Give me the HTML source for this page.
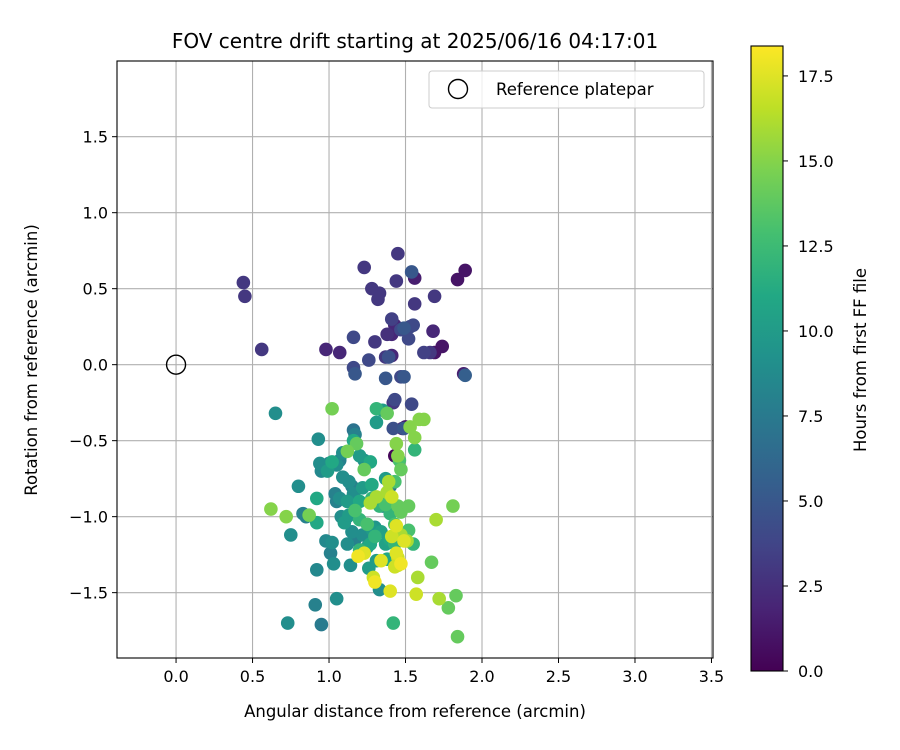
<!DOCTYPE html>
<html><head><meta charset="utf-8"><style>
html,body{margin:0;padding:0;background:#fff;}
svg{display:block;font-family:"DejaVu Sans","Liberation Sans",sans-serif;}
</style></head><body>
<svg id="chart" width="900" height="750" viewBox="0 0 900 750"></svg>
<script>
const xTicks=[0.0,0.5,1.0,1.5,2.0,2.5,3.0,3.5];
const yTicks=[-1.5,-1.0,-0.5,0.0,0.5,1.0,1.5];
const cTicks=[0.0,2.5,5.0,7.5,10.0,12.5,15.0,17.5];
const refPoint=[0,0];
const xs=[0.44,0.45,0.56,0.98,1.07,1.23,1.28,1.33,1.32,1.45,1.44,1.54,1.56,1.56,1.69,1.84,1.89,1.41,1.43,1.47,1.49,1.53,1.55,1.52,1.38,1.41,1.30,1.37,1.41,1.39,1.26,1.16,1.16,1.17,1.37,1.42,1.43,1.47,1.49,1.54,1.62,1.66,1.68,1.69,1.74,1.88,1.89,1.48,1.50,1.49,1.42,
0.65,1.02,1.16,1.17,1.16,1.18,1.12,0.93,1.31,1.35,1.38,1.31,1.44,1.53,1.56,1.56,1.62,1.43,1.45,1.47,1.46,1.09,1.07,1.05,1.00,0.94,0.95,0.99,1.02,1.09,1.13,1.15,1.20,1.23,1.27,1.23,1.28,1.22,1.16,1.04,1.07,0.92,0.80,0.83,0.85,0.92,0.62,0.72,0.75,0.87,1.08,1.12,1.17,1.10,1.15,1.20,0.98,1.02,1.01,1.03,1.12,1.17,1.22,1.25,1.28,1.30,1.25,1.27,1.30,1.34,1.37,1.40,1.43,1.40,1.43,1.33,1.35,1.31,1.37,1.41,1.38,1.45,1.47,1.52,1.39,1.43,1.40,1.37,1.34,1.28,1.27,1.29,1.20,1.17,1.12,1.05,1.13,1.23,1.19,1.26,1.29,1.30,1.33,1.31,1.34,1.38,1.40,1.42,1.41,1.44,1.47,1.51,1.44,1.45,1.47,1.45,1.43,1.57,1.58,1.67,1.70,1.81,1.72,1.78,1.83,1.84,1.59,1.14,0.92,0.91,0.95,0.73,1.05,1.20,1.52,1.49,1.55];
const ys=[0.54,0.45,0.10,0.10,0.08,0.64,0.50,0.47,0.43,0.73,0.55,0.61,0.57,0.40,0.45,0.56,0.62,0.30,0.26,0.23,0.24,0.25,0.26,0.17,0.20,0.20,0.15,0.05,0.06,0.05,0.03,0.18,-0.02,-0.06,-0.09,-0.25,-0.23,-0.08,-0.08,-0.26,0.08,0.08,0.22,0.08,0.12,-0.06,-0.07,-0.42,-0.41,-0.42,-0.42,
-0.32,-0.29,-0.43,-0.46,-0.50,-0.52,-0.57,-0.49,-0.29,-0.30,-0.32,-0.38,-0.52,-0.41,-0.48,-0.56,-0.36,-0.60,-0.60,-0.69,-0.63,-0.58,-0.63,-0.66,-0.65,-0.65,-0.70,-0.70,-0.64,-0.74,-0.77,-0.80,-0.60,-0.63,-0.64,-0.69,-0.79,-0.81,-0.85,-0.85,-0.88,-0.88,-0.80,-0.98,-1.00,-1.04,-0.95,-1.00,-1.12,-0.99,-1.00,-1.00,-0.96,-1.04,-1.10,-1.02,-1.16,-1.17,-1.24,-1.31,-1.18,-1.15,-1.12,-1.05,-1.08,-1.07,-1.20,-1.18,-1.13,-1.10,-1.18,-1.15,-1.18,-0.98,-1.05,-0.93,-0.93,-0.87,-0.92,-0.87,-0.84,-0.93,-0.97,-0.93,-0.77,-0.77,-0.80,-0.75,-0.90,-0.88,-0.91,-0.88,-0.90,-0.88,-0.90,-0.90,-0.99,-1.24,-1.26,-1.34,-1.40,-1.43,-1.48,-1.29,-1.29,-1.28,-1.49,-1.70,-1.13,-1.06,-1.12,-1.16,-1.24,-1.27,-1.31,-1.32,-1.33,-1.51,-1.40,-1.30,-1.02,-0.93,-1.54,-1.60,-1.52,-1.79,-0.36,-1.32,-1.35,-1.58,-1.71,-1.70,-1.54,-1.22,-1.09,-1.16,-1.18];
const hours=[3,3,3,2,2,3,3,3,3,3,3,5,1.5,3,3,1,1,3.5,2,4,5,4,4,4,2.5,2,3,3,2,4.5,4,4,4,5,5,3,4,4,5,4,3.5,3,2,1,1,1.5,5.5,2,1,5,4.5,
9,14.5,7,8,11,14,14.5,9,12,10,14,10,15,15,15,12,15,0.3,15,14,13,9,8,9,8,9,8.5,10,11,9,9,8,10,9,11,14,11,10,9,8,9,11,9,8,8,11,15,15,9,14.5,9,8.5,13,10,9,12,8.5,9,8,9,9,8,9,13,10,9.5,10,11,12,10.5,10.5,11,12,12,13,12,8,16,13,17,16,14,14,14,16,13,7,10,9,12,16,8,11,9,10,8,10,17.5,18,10,17,18,9,10,17.5,11,17.5,12,17,17.5,16,16,17.5,17,18,16.5,17,17,16,14,16,14.5,16,14,14,14,15,9,8.5,8,7.5,9,9,12,13,17.5,12];

const L=117,R=713,T=61,B=658;
const xMin=-0.386,xMax=3.51,yMin=-1.93,yMax=1.998;
const cL=751,cR=783,cT=46,cB=671,cMax=18.38;
function sx(v){return L+(v-xMin)/(xMax-xMin)*(R-L);}
function sy(v){return B-(v-yMin)/(yMax-yMin)*(B-T);}
function cy(v){return cB-v/cMax*(cB-cT);}
const vir=[[68,1,84],[72,36,117],[65,68,135],[53,95,141],[42,120,142],[33,145,140],[34,168,132],[68,191,112],[122,209,81],[189,223,38],[253,231,37]];
function viridis(t){t=Math.max(0,Math.min(1,t));const f=t*10,i=Math.min(9,Math.floor(f)),r=f-i;const a=vir[i],b=vir[i+1];return 'rgb('+a.map((c,k)=>Math.round(c+(b[k]-c)*r)).join(',')+')';}
const NS='http://www.w3.org/2000/svg';
const svg=document.getElementById('chart');
function mk(tag,attrs,parent){const e=document.createElementNS(NS,tag);for(const k in attrs)e.setAttribute(k,attrs[k]);(parent||svg).appendChild(e);return e;}
function fmt(v){return (v<0?'\u2212':'')+Math.abs(v).toFixed(1);}

const grid=mk('g',{});


xTicks.forEach(v=>{const l=mk('line',{x1:sx(v),x2:sx(v),y1:T,y2:B,stroke:'#b0b0b0','stroke-width':1.1},grid);

});
yTicks.forEach(v=>{const l=mk('line',{x1:L,x2:R,y1:sy(v),y2:sy(v),stroke:'#b0b0b0','stroke-width':1.1},grid);

});

const pts=mk('g',{});


const idx=hours.map((h,i)=>i).sort((a,b)=>hours[a]-hours[b]);
idx.forEach(i=>{const c=mk('circle',{cx:sx(xs[i]),cy:sy(ys[i]),r:6.8,fill:viridis(hours[i]/cMax)},pts);

});

const ref=mk('circle',{cx:sx(refPoint[0]),cy:sy(refPoint[1]),r:9.5,fill:'none',stroke:'#000','stroke-width':1.4});



const fr=mk('rect',{x:L,y:T,width:R-L,height:B-T,fill:'none',stroke:'#000','stroke-width':1.1});



xTicks.forEach(v=>{mk('line',{x1:sx(v),x2:sx(v),y1:B,y2:B+5,stroke:'#000'});
const t=mk('text',{x:sx(v),y:B+24,'font-size':16,'text-anchor':'middle'});t.textContent=fmt(v);

});
yTicks.forEach(v=>{mk('line',{x1:L-5,x2:L,y1:sy(v),y2:sy(v),stroke:'#000'});
const t=mk('text',{x:L-9,y:sy(v)+6,'font-size':16,'text-anchor':'end'});t.textContent=fmt(v);

});

let t=mk('text',{x:415,y:48,'font-size':20,'text-anchor':'middle'});t.textContent='FOV centre drift starting at 2025/06/16 04:17:01';


t=mk('text',{x:415,y:717,'font-size':16.5,'text-anchor':'middle'});t.textContent='Angular distance from reference (arcmin)';


t=mk('text',{x:37,y:360,'font-size':16.5,'text-anchor':'middle',transform:'rotate(-90 37 360)'});t.textContent='Rotation from reference (arcmin)';



const lg=mk('g',{});


mk('rect',{x:429,y:71,width:275,height:37,rx:3,fill:'#fff','fill-opacity':0.8,stroke:'#ccc'},lg);
mk('circle',{cx:458,cy:89,r:9.5,fill:'none',stroke:'#000','stroke-width':1.4},lg);
t=mk('text',{x:496,y:95,'font-size':16.5},lg);t.textContent='Reference platepar';



const cb=mk('g',{});


const defs=mk('defs',{},cb);
const gr=mk('linearGradient',{id:'vg',x1:0,y1:1,x2:0,y2:0},defs);
for(let k=0;k<=10;k++)mk('stop',{offset:k/10,'stop-color':viridis(k/10)},gr);
mk('rect',{x:cL,y:cT,width:cR-cL,height:cB-cT,fill:'url(#vg)',stroke:'#000','stroke-width':1.1},cb);
cTicks.forEach(v=>{mk('line',{x1:cR,x2:cR+5,y1:cy(v),y2:cy(v),stroke:'#000'},cb);
const tt=mk('text',{x:cR+15,y:cy(v)+6,'font-size':16},cb);tt.textContent=v.toFixed(1);

});
t=mk('text',{x:866,y:360,'font-size':16.5,'text-anchor':'middle',transform:'rotate(-90 866 360)'},cb);t.textContent='Hours from first FF file';


</script>
</body></html>
